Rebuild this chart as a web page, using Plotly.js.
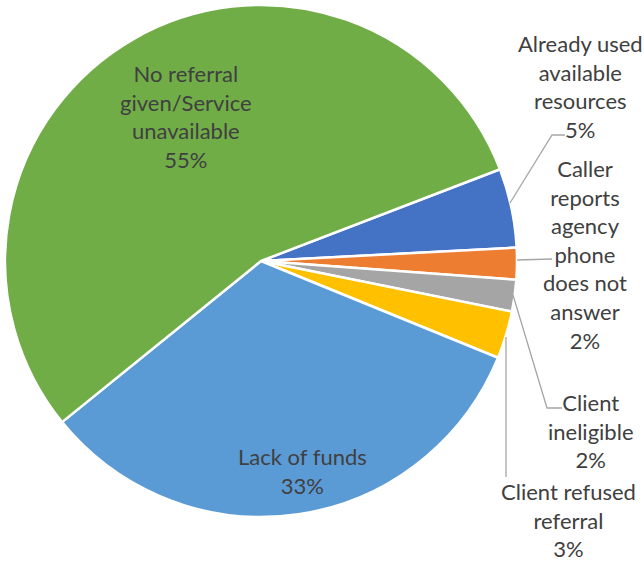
<!DOCTYPE html>
<html>
<head>
<meta charset="utf-8">
<script src="https://cdn.plot.ly/plotly-3.0.1.min.js"></script>
<style>html,body{margin:0;padding:0;background:#fff;}#chart{width:644px;height:561px;}</style>
</head>
<body>
<div id="chart"></div>
<script>
const categories = [
  "Already used available resources",
  "Caller reports agency phone does not answer",
  "Client ineligible",
  "Client refused referral",
  "Lack of funds",
  "No referral given/Service unavailable"
];
const values = [5, 2, 2, 3, 33, 55];
const labelLines = [
  "Already used<br>available<br>resources",
  "Caller<br>reports<br>agency<br>phone<br>does not<br>answer",
  "Client<br>ineligible",
  "Client refused<br>referral",
  "Lack of funds",
  "No referral<br>given/Service<br>unavailable"
];
const colors = ["#4472C4", "#ED7D31", "#A5A5A5", "#FFC000", "#5B9BD5", "#70AD47"];

const W = 644, H = 561;
const px = x => x / W;
const py = y => 1 - y / H;

const total = values.reduce((a, b) => a + b, 0);
const pct = values.map(v => Math.round(v / total * 100) + "%");

// label placements (pixel centres) and leader lines
const labelPos = [[580, 87], [585, 254], [591, 431], [568, 520], [302, 471], [186, 116]];
const leaders = [
  [[510, 203], [552, 135], [565, 135]],
  [[517, 260], [552, 259]],
  [[513, 295], [547, 408], [562, 408]],
  [[506, 337], [506, 477]],
  null, null
];

const annotations = categories.map((c, i) => ({
  text: labelLines[i] + "<br>" + pct[i],
  x: px(labelPos[i][0]), y: py(labelPos[i][1]),
  xref: "paper", yref: "paper", xanchor: "center", yanchor: "middle",
  showarrow: false,
  font: {family: "Lato, 'Open Sans', sans-serif", size: 22, color: "#404040"}
}));

const shapes = [];
leaders.forEach(l => {
  if (!l) return;
  let path = "M" + l.map(p => px(p[0]) + "," + py(p[1])).join(" L");
  shapes.push({type: "path", xref: "paper", yref: "paper", path: path,
    line: {color: "#A6A6A6", width: 1.3}});
});

const trace = {
  type: "pie",
  labels: categories,
  values: values,
  sort: false,
  direction: "clockwise",
  rotation: 69,
  marker: {colors: colors, line: {color: "#FFFFFF", width: 2.5}},
  textinfo: "none",
  hoverinfo: "label+percent",
  domain: {x: [px(5), px(517)], y: [py(517), py(5)]}
};

const layout = {
  width: W, height: H,
  margin: {l: 0, r: 0, t: 0, b: 0},
  showlegend: false,
  paper_bgcolor: "#FFFFFF",
  annotations: annotations,
  shapes: shapes
};

Plotly.newPlot("chart", [trace], layout, {displayModeBar: false, staticPlot: true});
</script>
</body>
</html>
